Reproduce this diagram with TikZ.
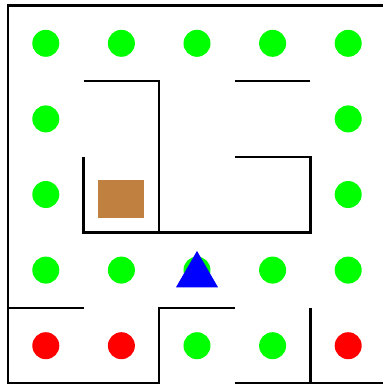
\documentclass[tikz,border=0pt]{standalone}
\usepackage{tikz}
\usetikzlibrary{shapes.geometric}

\begin{document}
\begin{tikzpicture}[
  x=75.6pt, y=-75.6pt,
  wall/.style={line width=2.4pt, black},
  food/.style={circle, fill=green, inner sep=0pt, minimum size=27pt},
  danger/.style={circle, fill=red, inner sep=0pt, minimum size=27pt},
  agent/.style={regular polygon, regular polygon sides=3, fill=blue, inner sep=0pt,
                minimum size=48.5pt},
  goal/.style={rectangle, fill={rgb,255:red,192;green,128;blue,64}, inner sep=0pt,
               minimum width=46pt, minimum height=38pt}
]
\useasboundingbox (-8pt,5.5pt) rectangle (375pt,-378.5pt);
% dots, one per cell of the open corridors
\foreach \col/\row in {0/0,1/0,2/0,3/0,4/0, 0/1,4/1, 0/2,4/2,
                       0/3,1/3,2/3,3/3,4/3, 2/4,3/4}
  \node[food] (f-\col-\row) at (\col+0.5,\row+0.5) {};
\foreach \col/\row in {0/4,1/4,4/4}
  \node[danger] (d-\col-\row) at (\col+0.5,\row+0.5) {};
% the box and the agent
\node[goal] (box) at (1.5,2.56) {};
\node[agent] (player) at (2.5,3.567) {};
% outer frame
\draw[wall] (0,5) -- (0,0) -- (5,0);
\draw[wall] (0,5) -- (2,5);
\draw[wall] (3,5) -- (5,5);
% inner walls
\draw[wall] (1,1) -- (2,1) -- (2,3);
\draw[wall] (3,1) -- (4,1);
\draw[wall] (1,2) -- (1,3) -- (4,3) -- (4,2) -- (3,2);
\draw[wall] (0,4) -- (1,4);
\draw[wall] (2,5) -- (2,4) -- (3,4);
\draw[wall] (4,4) -- (4,5);
\end{tikzpicture}
\end{document}
